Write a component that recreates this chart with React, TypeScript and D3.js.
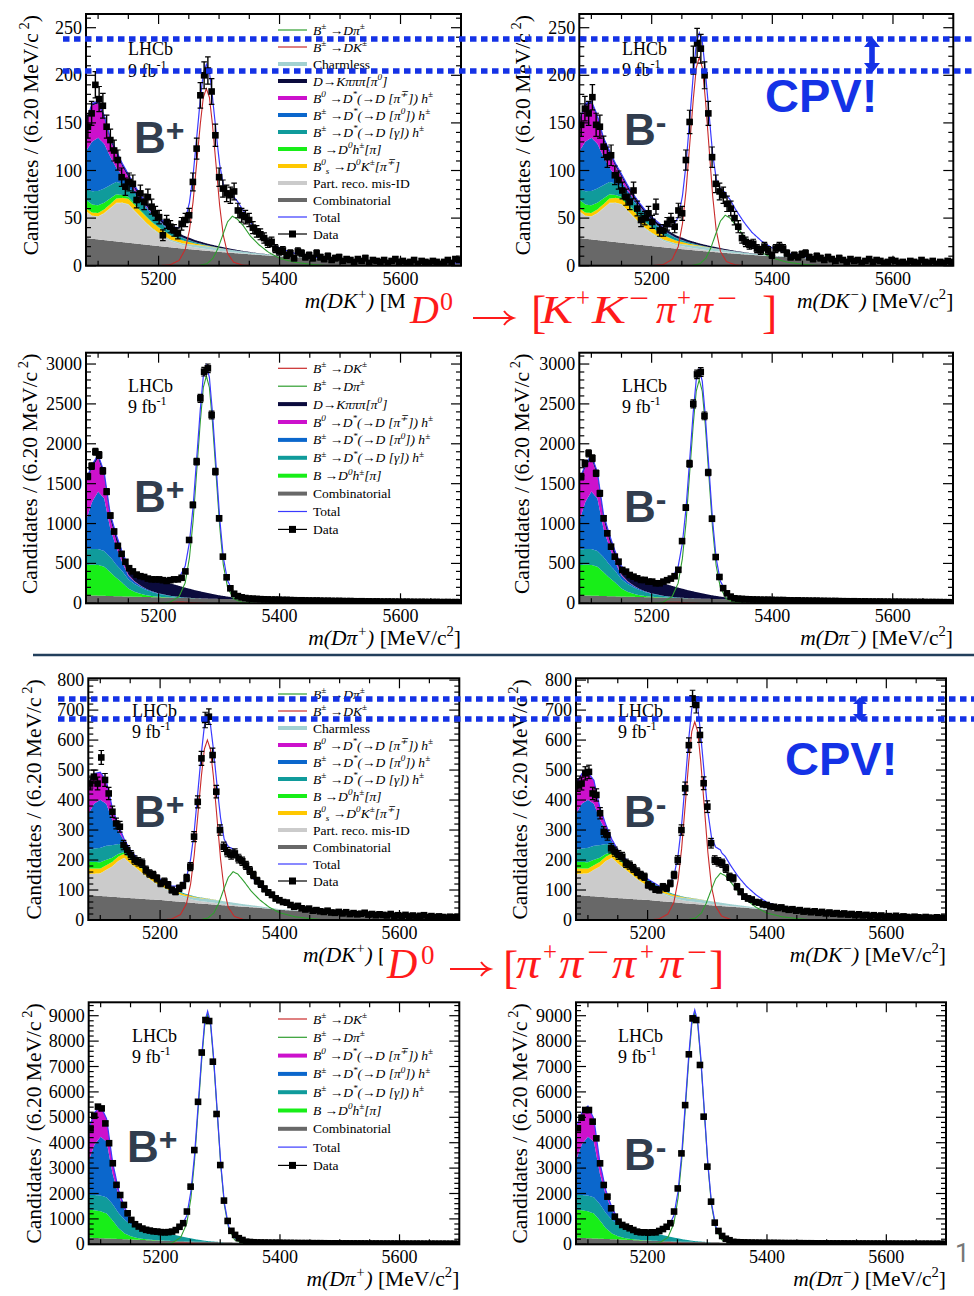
import React from 'react';
import * as d3 from 'd3';

// ---------------- data ----------------
const massDomain = [5080, 5700];
const firstBinCentre = 5083.1;
const binWidth = 6.2;

const bgKnots = [5080, 5090, 5100, 5110, 5120, 5130, 5140, 5150, 5160, 5170, 5180, 5190, 5200, 5220, 5240, 5260, 5280, 5300, 5320, 5340, 5360, 5400, 5450, 5500, 5600, 5700];
const peakKnots = [5199, 5219, 5234, 5244, 5251, 5257, 5263, 5269, 5274, 5279, 5284, 5289, 5295, 5301, 5307, 5314, 5324, 5339, 5359];
const misIdKnots = [5265, 5280, 5290, 5298, 5306, 5314, 5322, 5330, 5340, 5352, 5366, 5382, 5400, 5425, 5450, 5480];
const dkInDpiKnots = [5180, 5200, 5215, 5228, 5240, 5252, 5265, 5280];

// Row 1: D -> K+K-pi+pi-, B -> DK
const kkDK_comb = [29, 28.3, 27.6, 26.9, 26.2, 25.5, 24.8, 24.1, 23.4, 22.7, 22, 21.3, 20.6, 19.3, 18, 16.8, 15.6, 14.5, 13.5, 12.5, 11.6, 9.8, 8, 6.5, 4.3, 2.8];
const kkDK_partReco = [28, 24, 24, 28, 34, 40, 41, 40, 34, 28, 22, 17, 13, 6.5, 3.5, 2.5, 1.8, 1.2, 0.8, 0.5, 0.3, 0.1, 0, 0, 0, 0];
const kkDK_charmless = [0.3, 0.3, 0.3, 0.4, 0.4, 0.5, 0.5, 0.6, 0.7, 0.8, 0.9, 1, 1.1, 1.5, 2, 2.6, 3, 2.8, 2.4, 1.9, 1.4, 0.6, 0.2, 0, 0, 0];
const kkDK_bs = [3, 3.2, 3.5, 3.8, 4, 4.5, 5, 5.5, 6, 6, 6, 5.8, 5.5, 4.5, 3, 1.5, 0.6, 0.2, 0, 0, 0, 0, 0, 0, 0, 0];
const kkDK_dh = [9, 8.5, 8, 7, 6, 4.5, 3, 2, 1.5, 1.1, 0.8, 0.6, 0.4, 0.2, 0, 0, 0, 0, 0, 0, 0, 0, 0, 0, 0, 0];
const kkDK_gamma = [11, 14, 15, 15, 14, 13, 12, 11, 10, 9, 8, 7, 6, 4, 2.5, 1.2, 0.5, 0.2, 0, 0, 0, 0, 0, 0, 0, 0];
const kkDK_pi0 = [40, 52, 56, 47, 30, 15, 8, 5, 3.5, 2.5, 2, 1.5, 1.2, 0.8, 0.5, 0.2, 0, 0, 0, 0, 0, 0, 0, 0, 0, 0];
const kkDK_pim = [30, 38, 36, 27, 17, 15, 10, 5, 2.5, 1.5, 1, 0.6, 0.3, 0.1, 0, 0, 0, 0, 0, 0, 0, 0, 0, 0, 0, 0];
const kkDK_k3pi = [1.5, 2, 2.5, 2.8, 3, 3, 3, 3, 3, 3, 3, 3, 3, 2.8, 2.5, 2.2, 1.8, 1.4, 1, 0.6, 0.3, 0.1, 0, 0, 0, 0];
const kkDKplus_sig = [0, 0.9, 5.6, 17, 37, 67, 108, 149, 177, 186, 177, 149, 106, 63, 32, 13, 3.7, 0.6, 0];
const kkDKminus_sig = [0, 1.1, 6.6, 20, 44, 79, 127, 175, 208, 219, 208, 175, 125, 74, 37, 15, 4.4, 0.7, 0];
const kkDKplus_misid = [0, 2.1, 7.8, 18, 32, 46, 52, 49, 42, 31, 22, 14, 7.8, 3.6, 1.6, 0];
const kkDKminus_misid = [0, 2.1, 8, 18.5, 33, 47, 53, 50, 42, 32, 22, 14, 8, 3.7, 1.6, 0];
const kkDKplus_data = [146, 160, 190, 175, 168, 146, 132, 121, 111, 93, 83, 88, 86, 69, 76, 67, 72, 62, 55, 51, 32, 46, 41, 37, 34, 44, 48, 53,
  88, 123, 179, 200, 205, 183, 137, 93, 81, 76, 74, 78, 58, 53, 51, 48, 40, 36, 33, 29, 24, 25,
  18, 15, 16, 11, 13, 8, 15, 13, 9, 11, 8, 13, 9, 7, 10, 6, 8, 9, 5, 7, 6, 4, 7, 5, 8, 3, 6, 5, 4, 6, 3, 5, 7, 4, 5, 3, 4, 6, 2, 5, 4, 3, 5, 4, 2, 4, 6, 3, 7, 6];
const kkDKminus_data = [148, 165, 160, 177, 148, 146, 125, 114, 116, 95, 90, 79, 72, 67, 79, 60, 48, 50, 55, 46, 62, 37, 37, 44, 48, 41, 58, 55,
  111, 151, 216, 234, 228, 200, 160, 114, 86, 78, 74, 65, 60, 50, 41, 29, 25, 22, 23, 18, 16, 20,
  16, 11, 18, 20, 18, 13, 9, 11, 9, 12, 13, 9, 7, 10, 8, 6, 9, 7, 5, 8, 6, 4, 7, 5, 6, 3, 5, 7, 4, 6, 5, 3, 4, 6, 5, 3, 4, 2, 5, 4, 3, 6, 4, 3, 5, 2, 4, 3, 5, 4];

// Row 2: D -> K+K-pi+pi-, B -> Dpi
const kkDpi_comb = [100, 98, 96, 94, 91, 89, 87, 85, 83, 81, 79, 77, 75, 71, 67, 63, 59, 55, 52, 48, 45, 40, 34, 28, 20, 14];
const kkDpi_dh = [380, 385, 385, 365, 300, 230, 170, 100, 62, 38, 22, 13, 7, 2, 0, 0, 0, 0, 0, 0, 0, 0, 0, 0, 0, 0];
const kkDpi_gamma = [195, 198, 200, 197, 190, 165, 145, 115, 98, 82, 65, 50, 37, 18, 7, 2, 0, 0, 0, 0, 0, 0, 0, 0, 0, 0];
const kkDpi_pi0 = [360, 590, 720, 660, 360, 220, 110, 45, 28, 18, 12, 8, 6, 3, 1, 0, 0, 0, 0, 0, 0, 0, 0, 0, 0, 0];
const kkDpi_pim = [480, 430, 420, 280, 120, 80, 40, 15, 8, 4, 2, 1, 0.5, 0, 0, 0, 0, 0, 0, 0, 0, 0, 0, 0, 0, 0];
const kkDpi_k3pi = [30, 35, 40, 50, 60, 75, 90, 105, 120, 132, 142, 148, 160, 155, 130, 100, 72, 46, 25, 12, 5, 1, 0, 0, 0, 0];
const kkDpiplus_sig = [0, 14, 86, 257, 570, 1026, 1653, 2280, 2708, 2850, 2708, 2280, 1625, 969, 485, 200, 57, 9, 0];
const kkDpiminus_sig = [0, 14, 84, 252, 560, 1008, 1624, 2240, 2660, 2800, 2660, 2240, 1596, 952, 476, 196, 56, 8, 0];
const kkDpiplus_dk = [0, 3, 8, 14, 15, 10, 3, 0];
const kkDpiminus_dk = [0, 3, 8, 13, 14, 9, 3, 0];
const kkDpiplus_data = [1590, 1720, 1900, 1860, 1660, 1400, 1100, 900, 720, 620, 520, 440, 400, 360, 340, 330, 310, 300, 300, 300, 290, 280, 290, 300, 300, 320, 400,
  794, 1233, 1776, 2570, 2904, 2946, 2361, 1651, 1066, 585, 326, 188, 120, 90, 75,
  66, 60, 58, 55, 52, 50, 49, 46, 47, 44, 42, 43, 40, 39, 37, 38, 36, 35, 34, 35, 33, 31, 32, 30, 29, 30, 28, 27, 28, 26, 25, 26, 24, 24, 23, 24, 22, 21, 22, 21, 20, 20, 19, 20, 18, 18, 17, 18, 17, 16, 16, 17, 15, 15, 16, 14, 15, 14];
const kkDpiminus_data = [1588, 1755, 1880, 1818, 1630, 1379, 1066, 878, 710, 585, 522, 418, 397, 355, 334, 313, 293, 293, 272, 272, 251, 251, 272, 290, 310, 340, 420,
  780, 1200, 1750, 2500, 2870, 2900, 2350, 1640, 1060, 580, 330, 190, 125, 84, 63,
  58, 55, 52, 50, 48, 47, 45, 44, 45, 42, 41, 40, 41, 38, 37, 36, 37, 34, 34, 33, 32, 33, 30, 30, 29, 28, 29, 27, 26, 26, 25, 26, 24, 23, 24, 22, 22, 21, 22, 20, 20, 19, 20, 19, 18, 18, 17, 18, 16, 17, 16, 15, 16, 15, 15, 14, 14, 13];

// Row 3: D -> pi+pi-pi+pi-, B -> DK
const pipiDK_comb = [83, 82, 80, 79, 77, 76, 74.5, 73, 72, 70.5, 69, 68, 67, 63, 60, 56, 53, 50, 47, 44, 41.5, 34, 28, 23, 15, 9];
const pipiDK_partReco = [70, 72, 75, 88, 101, 120, 132, 115, 100, 85, 70, 56, 45, 28, 15, 9, 7, 5, 3.5, 2.5, 1.5, 0.5, 0, 0, 0, 0];
const pipiDK_charmless = [0.5, 0.5, 0.6, 0.6, 0.7, 0.8, 1, 1.2, 1.4, 1.6, 1.8, 2, 2.3, 3.5, 6, 9, 10, 9.5, 8, 6, 4.5, 1.5, 0.3, 0, 0, 0];
const pipiDK_bs = [18, 17, 16, 15, 15, 14.5, 14, 14, 14, 13.5, 13, 12, 11, 8, 5, 2, 1, 0.3, 0, 0, 0, 0, 0, 0, 0, 0];
const pipiDK_dh = [22, 22, 21, 18, 14, 9, 5, 3.5, 2.5, 2, 1.5, 1.2, 1, 0.4, 0, 0, 0, 0, 0, 0, 0, 0, 0, 0, 0, 0];
const pipiDK_gamma = [40, 45, 48, 47, 42, 33, 25, 20, 17, 15, 13, 11, 10, 6, 3, 1.5, 0.5, 0, 0, 0, 0, 0, 0, 0, 0, 0];
const pipiDK_pi0 = [120, 150, 160, 140, 85, 45, 12, 5, 2.5, 1.5, 1, 0.5, 0.3, 0, 0, 0, 0, 0, 0, 0, 0, 0, 0, 0, 0, 0];
const pipiDK_pim = [100, 100, 92, 78, 40, 20, 6, 2, 1, 0.5, 0, 0, 0, 0, 0, 0, 0, 0, 0, 0, 0, 0, 0, 0, 0, 0];
const pipiDKplus_sig = [0, 3, 18, 54, 120, 216, 348, 480, 570, 600, 570, 480, 342, 204, 102, 42, 12, 1.8, 0];
const pipiDKminus_sig = [0, 3.3, 20, 59, 132, 238, 383, 529, 628, 661, 628, 529, 377, 225, 112, 46, 13, 2, 0];
const pipiDKplus_misid = [0, 6.4, 24, 56, 100, 142, 161, 153, 129, 97, 68, 43, 24, 11, 4.8, 0];
const pipiDKminus_misid = [0, 6.2, 23, 55, 97, 137, 156, 148, 125, 94, 66, 42, 23, 11, 4.7, 0];
const pipiDKplus_data = [455, 478, 455, 542, 467, 422, 361, 322, 311, 250, 233, 217, 200, 194, 189, 167, 155, 150, 139, 122, 128, 117, 100, 94, 106, 115,
  140, 178, 278, 394, 539, 667, 678, 550, 428, 300, 244, 226, 218, 222, 205, 196, 182, 165, 150, 131, 120, 104, 92, 84, 72,
  66, 60, 58, 50, 44, 47, 39, 35, 38, 31, 33, 29, 27, 31, 25, 24, 27, 22, 26, 20, 23, 19, 21, 24, 18, 20, 16, 19, 17, 15, 20, 14, 16, 13, 17, 12, 15, 11, 14, 16, 10, 13, 9, 12, 10, 8, 11, 9, 10];
const pipiDKminus_data = [450, 455, 489, 494, 422, 417, 356, 294, 283, 239, 228, 217, 211, 189, 183, 172, 161, 150, 144, 117, 111, 102, 100, 111, 106, 122,
  150, 200, 300, 439, 583, 739, 717, 617, 456, 378, 256, 200, 194, 189, 172, 144, 139, 111, 94, 78,
  72, 68, 60, 58, 52, 50, 45, 44, 40, 42, 37, 34, 36, 31, 33, 28, 30, 26, 29, 24, 27, 22, 25, 21, 23, 19, 22, 18, 20, 16, 19, 15, 17, 13, 16, 12, 15, 11, 13, 10, 14, 9, 12, 10, 8, 11, 9, 7, 10, 8, 6, 9, 7, 8];

// Row 4: D -> pi+pi-pi+pi-, B -> Dpi
const pipiDpi_comb = [260, 250, 240, 230, 220, 210, 200, 190, 180, 170, 160, 150, 142, 128, 115, 103, 93, 84, 76, 69, 63, 53, 44, 37, 28, 22];
const pipiDpi_dh = [1100, 1090, 1060, 980, 720, 420, 230, 130, 75, 45, 28, 17, 10, 3, 0, 0, 0, 0, 0, 0, 0, 0, 0, 0, 0, 0];
const pipiDpi_gamma = [580, 600, 620, 640, 640, 600, 540, 470, 400, 340, 310, 300, 290, 260, 170, 90, 30, 5, 0, 0, 0, 0, 0, 0, 0, 0];
const pipiDpi_pi0 = [1360, 2005, 2310, 2190, 1200, 700, 380, 180, 70, 30, 15, 9, 6, 2, 0, 0, 0, 0, 0, 0, 0, 0, 0, 0, 0, 0];
const pipiDpi_pim = [1260, 1250, 1210, 900, 450, 200, 100, 45, 20, 10, 5, 3, 1, 0, 0, 0, 0, 0, 0, 0, 0, 0, 0, 0, 0, 0];
const pipiDpiplus_sig = [0, 45, 272, 815, 1810, 3258, 5249, 7240, 8598, 9050, 8598, 7240, 5159, 3077, 1539, 634, 181, 27, 0];
const pipiDpiminus_sig = [0, 46, 273, 819, 1820, 3276, 5278, 7280, 8645, 9100, 8645, 7280, 5187, 3094, 1547, 637, 182, 27, 0];
const pipiDpiplus_dk = [0, 10, 25, 45, 50, 35, 10, 0];
const pipiDpiminus_dk = [0, 10, 24, 42, 48, 33, 9, 0];
const pipiDpiplus_data = [4560, 5060, 5420, 5350, 4760, 3980, 3190, 2340, 1940, 1550, 1220, 960, 790, 700, 620, 570, 540, 510, 500, 480, 470, 480, 500, 560, 690, 830,
  1290, 2270, 3710, 5610, 7550, 8830, 8790, 7190, 5130, 3120, 1720, 920, 530, 370, 240, 170,
  100, 90, 80, 72, 70, 66, 64, 60, 62, 57, 55, 53, 54, 50, 49, 47, 48, 45, 44, 43, 44, 41, 40, 38, 39, 37, 36, 37, 35, 34, 33, 34, 32, 31, 30, 31, 29, 28, 29, 27, 27, 26, 27, 25, 25, 24, 25, 23, 23, 22, 23, 22, 21, 22, 21, 20, 21, 20];
const pipiDpiminus_data = [4566, 4986, 5287, 5287, 4828, 4172, 3188, 2335, 1876, 1417, 1089, 892, 761, 695, 630, 564, 499, 472, 472, 459, 472, 472, 525, 600, 690, 830,
  1290, 2200, 3580, 5480, 7480, 8895, 8830, 7060, 5025, 3057, 1679, 853, 525, 328, 220, 160,
  95, 85, 78, 74, 68, 65, 62, 61, 58, 56, 54, 55, 51, 50, 48, 46, 47, 44, 45, 42, 41, 42, 39, 38, 37, 38, 35, 35, 34, 33, 34, 31, 31, 30, 29, 30, 28, 28, 27, 28, 26, 26, 25, 26, 24, 24, 23, 24, 22, 23, 22, 21, 22, 21, 20, 21, 20, 20];

const xTickLabels = [5200, 5400, 5600];

// ---------------- styles ----------------
const SERIF = "'Liberation Serif', 'Times New Roman', serif";
const SANS = "'Liberation Sans', Arial, sans-serif";
const COLORS: Record<string, string> = {
  comb: '#686868', pr: '#cbcbcb', charm: '#a2d1d1', bs: '#ffc800', dh: '#18ee18', gamma: '#109b9b',
  pi0: '#0b67cc', pim: '#cc11cc', k3pi: '#0b0b3d', dk: '#c92a2a', dpi: '#2f9e2f', total: '#3a3aff',
};
const LEGEND_TEXT: Record<string, [string, boolean]> = {
  dpi: ['B^{±} →Dπ^{±}', true],
  dk: ['B^{±} →DK^{±}', true],
  charm: ['Charmless', false],
  k3pi: ['D→Kπππ[π^{0}]', true],
  pim: ['B^{0} →D^{*}(→D [π^{∓}]) h^{±}', true],
  pi0: ['B^{±} →D^{*}(→D [π^{0}]) h^{±}', true],
  gamma: ['B^{±} →D^{*}(→D [γ]) h^{±}', true],
  dh: ['B →D^{0}h^{±}[π]', true],
  bs: ['B^{0}_{s} →D^{0}K^{±}[π^{∓}]', true],
  pr: ['Part. reco. mis-ID', false],
  comb: ['Combinatorial', false],
  total: ['Total', false],
  data: ['Data', false],
};
const THIN = new Set(['dk', 'dpi', 'total']);

function parseRich(s: string) {
  const parts: { t: string; lvl: number }[] = [];
  let buf = '';
  let i = 0;
  while (i < s.length) {
    const c = s[i];
    if ((c === '^' || c === '_') && s[i + 1] === '{') {
      if (buf) { parts.push({ t: buf, lvl: 0 }); buf = ''; }
      const j = s.indexOf('}', i);
      parts.push({ t: s.slice(i + 2, j), lvl: c === '^' ? 1 : -1 });
      i = j + 1;
    } else { buf += c; i++; }
  }
  if (buf) parts.push({ t: buf, lvl: 0 });
  return parts;
}

function rich(segs: { s: string; it?: boolean }[], fs: number) {
  const out: any[] = [];
  let cur = 0;
  let k = 0;
  for (const seg of segs) {
    for (const p of parseRich(seg.s)) {
      const off = p.lvl === 1 ? -0.42 * fs : p.lvl === -1 ? 0.24 * fs : 0;
      const dy = off - cur;
      cur = off;
      out.push(
        <tspan key={k++} dy={dy !== 0 ? dy : undefined} fontSize={p.lvl ? fs * 0.68 : fs} fontStyle={seg.it ? 'italic' : 'normal'}>
          {p.t}
        </tspan>
      );
    }
  }
  return out;
}

type Curve = { knots: number[]; vals: number[] };
interface PanelSpec {
  frame: [number, number, number, number];
  yMax: number; yStep: number; yMinor: number;
  stack: { key: string; vals: number[] }[];
  dk: Curve; dpi: Curve; data: number[];
  legend?: { keys: string[]; x: number; y: number; dy: number };
  sign: string; bx: number; by: number;
  lx: number; ly: number; ly2: number;
  yTitleX: number;
  xTitle: string;
  titleClip?: number;
}

const kkDKstack = [
  { key: 'comb', vals: kkDK_comb }, { key: 'pr', vals: kkDK_partReco }, { key: 'charm', vals: kkDK_charmless },
  { key: 'bs', vals: kkDK_bs }, { key: 'dh', vals: kkDK_dh }, { key: 'gamma', vals: kkDK_gamma },
  { key: 'pi0', vals: kkDK_pi0 }, { key: 'pim', vals: kkDK_pim }, { key: 'k3pi', vals: kkDK_k3pi },
];
const kkDpiStack = [
  { key: 'comb', vals: kkDpi_comb }, { key: 'dh', vals: kkDpi_dh }, { key: 'gamma', vals: kkDpi_gamma },
  { key: 'pi0', vals: kkDpi_pi0 }, { key: 'pim', vals: kkDpi_pim }, { key: 'k3pi', vals: kkDpi_k3pi },
];
const pipiDKstack = [
  { key: 'comb', vals: pipiDK_comb }, { key: 'pr', vals: pipiDK_partReco }, { key: 'charm', vals: pipiDK_charmless },
  { key: 'bs', vals: pipiDK_bs }, { key: 'dh', vals: pipiDK_dh }, { key: 'gamma', vals: pipiDK_gamma },
  { key: 'pi0', vals: pipiDK_pi0 }, { key: 'pim', vals: pipiDK_pim },
];
const pipiDpiStack = [
  { key: 'comb', vals: pipiDpi_comb }, { key: 'dh', vals: pipiDpi_dh }, { key: 'gamma', vals: pipiDpi_gamma },
  { key: 'pi0', vals: pipiDpi_pi0 }, { key: 'pim', vals: pipiDpi_pim },
];

const DKp = 'm(DK^{+})';
const PANELS: PanelSpec[] = [
  {
    frame: [86, 461, 14, 265.7], yMax: 264.4, yStep: 50, yMinor: 10, stack: kkDKstack,
    dk: { knots: peakKnots, vals: kkDKplus_sig }, dpi: { knots: misIdKnots, vals: kkDKplus_misid }, data: kkDKplus_data,
    legend: { keys: ['dpi', 'dk', 'charm', 'k3pi', 'pim', 'pi0', 'gamma', 'dh', 'bs', 'pr', 'comb', 'total', 'data'], x: 278, y: 30, dy: 17.0 },
    sign: '+', bx: 134, by: 153, lx: 128, ly: 55, ly2: 77, yTitleX: 38, xTitle: DKp, titleClip: 405,
  },
  {
    frame: [579.3, 953.3, 14, 265.7], yMax: 264.4, yStep: 50, yMinor: 10, stack: kkDKstack,
    dk: { knots: peakKnots, vals: kkDKminus_sig }, dpi: { knots: misIdKnots, vals: kkDKminus_misid }, data: kkDKminus_data,
    sign: '-', bx: 624, by: 145, lx: 622, ly: 55, ly2: 76, yTitleX: 530, xTitle: 'm(DK^{−})',
  },
  {
    frame: [86, 461, 352.7, 603.3], yMax: 3142, yStep: 500, yMinor: 100, stack: kkDpiStack,
    dk: { knots: dkInDpiKnots, vals: kkDpiplus_dk }, dpi: { knots: peakKnots, vals: kkDpiplus_sig }, data: kkDpiplus_data,
    legend: { keys: ['dk', 'dpi', 'k3pi', 'pim', 'pi0', 'gamma', 'dh', 'comb', 'total', 'data'], x: 278, y: 368.3, dy: 17.9 },
    sign: '+', bx: 134, by: 512, lx: 128, ly: 392, ly2: 413, yTitleX: 37, xTitle: 'm(Dπ^{+})',
  },
  {
    frame: [579.3, 953, 352.7, 603.3], yMax: 3142, yStep: 500, yMinor: 100, stack: kkDpiStack,
    dk: { knots: dkInDpiKnots, vals: kkDpiminus_dk }, dpi: { knots: peakKnots, vals: kkDpiminus_sig }, data: kkDpiminus_data,
    sign: '-', bx: 624, by: 522, lx: 622, ly: 392, ly2: 413, yTitleX: 529, xTitle: 'm(Dπ^{−})',
  },
  {
    frame: [88.3, 459.3, 678.3, 920], yMax: 806, yStep: 100, yMinor: 20, stack: pipiDKstack,
    dk: { knots: peakKnots, vals: pipiDKplus_sig }, dpi: { knots: misIdKnots, vals: pipiDKplus_misid }, data: pipiDKplus_data,
    legend: { keys: ['dpi', 'dk', 'charm', 'pim', 'pi0', 'gamma', 'dh', 'bs', 'pr', 'comb', 'total', 'data'], x: 278, y: 694, dy: 17.0 },
    sign: '+', bx: 134, by: 827, lx: 132, ly: 717, ly2: 738, yTitleX: 41, xTitle: DKp, titleClip: 383,
  },
  {
    frame: [576, 946, 678.3, 920], yMax: 806, yStep: 100, yMinor: 20, stack: pipiDKstack,
    dk: { knots: peakKnots, vals: pipiDKminus_sig }, dpi: { knots: misIdKnots, vals: pipiDKminus_misid }, data: pipiDKminus_data,
    sign: '-', bx: 624, by: 827, lx: 618, ly: 717, ly2: 738, yTitleX: 527, xTitle: 'm(DK^{−})',
  },
  {
    frame: [88.7, 459.3, 1002.3, 1244.3], yMax: 9528, yStep: 1000, yMinor: 200, stack: pipiDpiStack,
    dk: { knots: dkInDpiKnots, vals: pipiDpiplus_dk }, dpi: { knots: peakKnots, vals: pipiDpiplus_sig }, data: pipiDpiplus_data,
    legend: { keys: ['dk', 'dpi', 'pim', 'pi0', 'gamma', 'dh', 'comb', 'total', 'data'], x: 278, y: 1019, dy: 18.3 },
    sign: '+', bx: 127, by: 1162, lx: 132, ly: 1042, ly2: 1063, yTitleX: 41, xTitle: 'm(Dπ^{+})',
  },
  {
    frame: [576, 946, 1002.3, 1244.3], yMax: 9528, yStep: 1000, yMinor: 200, stack: pipiDpiStack,
    dk: { knots: dkInDpiKnots, vals: pipiDpiminus_dk }, dpi: { knots: peakKnots, vals: pipiDpiminus_sig }, data: pipiDpiminus_data,
    sign: '-', bx: 624, by: 1170, lx: 618, ly: 1042, ly2: 1063, yTitleX: 527, xTitle: 'm(Dπ^{−})',
  },
];

const fine = d3.range(massDomain[0], massDomain[1] + 0.5, 1);
const interp = (knots: number[], vals: number[]) => d3.scaleLinear().domain(knots).range(vals).clamp(true);

function Panel({ p, idx }: { p: PanelSpec; idx: number }) {
  const [x0, x1, y0, y1] = p.frame;
  const xs = d3.scaleLinear().domain(massDomain).range([x0, x1]);
  const ys = d3.scaleLinear().domain([0, p.yMax]).range([y1, y0]);
  let cum = fine.map(() => 0);
  const areas = p.stack.map((l) => {
    const f = interp(bgKnots, l.vals);
    const lo = cum;
    const hi = fine.map((m, j) => lo[j] + Math.max(0, f(m)));
    cum = hi;
    const area = d3.area<number>().x((m) => xs(m)).y0((_, j) => ys(lo[j])).y1((_, j) => ys(hi[j]));
    return <path key={l.key} d={area(fine) || ''} fill={COLORS[l.key]} stroke="none" />;
  });
  const fdk = interp(p.dk.knots, p.dk.vals);
  const fdpi = interp(p.dpi.knots, p.dpi.vals);
  const total = fine.map((m, j) => cum[j] + fdk(m) + fdpi(m));
  const line = d3.line<[number, number]>().x((d) => xs(d[0])).y((d) => ys(d[1]));
  const curvePts = (c: Curve, f: (m: number) => number) =>
    fine.filter((m) => m >= c.knots[0] && m <= c.knots[c.knots.length - 1]).map((m) => [m, f(m)] as [number, number]);
  const clipId = `clip${idx}`;
  const tclipId = `tclip${idx}`;

  const yTicks: any[] = [];
  const nMinor = Math.floor(p.yMax / p.yMinor + 1e-9);
  const per = Math.round(p.yStep / p.yMinor);
  for (let k = 0; k <= nMinor; k++) {
    const v = k * p.yMinor;
    const len = k % per === 0 ? 10 : 5;
    const y = ys(v);
    yTicks.push(<line key={`l${k}`} x1={x0} x2={x0 + len} y1={y} y2={y} />);
    yTicks.push(<line key={`r${k}`} x1={x1} x2={x1 - len} y1={y} y2={y} />);
  }
  const xTicks: any[] = [];
  for (let m = 5100; m <= 5700; m += 50) {
    const len = m % 200 === 0 ? 10 : 5;
    const x = xs(m);
    xTicks.push(<line key={`b${m}`} x1={x} x2={x} y1={y1} y2={y1 - len} />);
    xTicks.push(<line key={`t${m}`} x1={x} x2={x} y1={y0} y2={y0 + len} />);
  }
  const yLabels = d3.range(0, p.yMax + 1e-6, p.yStep).filter((v) => v <= p.yMax);

  return (
    <g>
      <defs>
        <clipPath id={clipId}><rect x={x0} y={y0} width={x1 - x0} height={y1 - y0} /></clipPath>
        {p.titleClip && <clipPath id={tclipId}><rect x={0} y={y1 + 10} width={p.titleClip} height={60} /></clipPath>}
      </defs>
      <g clipPath={`url(#${clipId})`}>
        {areas}
        <path d={line(curvePts(p.dk, fdk)) || ''} fill="none" stroke={COLORS.dk} strokeWidth={1.1} />
        <path d={line(curvePts(p.dpi, fdpi)) || ''} fill="none" stroke={COLORS.dpi} strokeWidth={1.1} />
        <path d={line(fine.map((m, j) => [m, total[j]] as [number, number])) || ''} fill="none" stroke={COLORS.total} strokeWidth={1.2} />
        {p.data.map((v, i) => {
          const m = firstBinCentre + binWidth * i;
          const cx = xs(m);
          const e = Math.sqrt(v);
          const ya = ys(v + e), yb = ys(v - e), yc = ys(v);
          return (
            <g key={i}>
              <line x1={cx} x2={cx} y1={ya} y2={yb} stroke="#000" strokeWidth={1.4} />
              <line x1={cx - 2.8} x2={cx + 2.8} y1={ya} y2={ya} stroke="#000" strokeWidth={1.2} />
              <line x1={cx - 2.8} x2={cx + 2.8} y1={yb} y2={yb} stroke="#000" strokeWidth={1.2} />
              <rect x={cx - 3.3} y={yc - 3.3} width={6.6} height={6.6} fill="#000" />
            </g>
          );
        })}
      </g>
      <g stroke="#000" strokeWidth={1.2}>{yTicks}{xTicks}</g>
      <rect x={x0} y={y0} width={x1 - x0} height={y1 - y0} fill="none" stroke="#000" strokeWidth={2} />
      <g fontFamily={SERIF} fontSize={18} fill="#000">
        {yLabels.map((v) => (
          <text key={v} x={x0 - 4} y={ys(v) + 6} textAnchor="end">{v}</text>
        ))}
        {xTickLabels.map((m) => (
          <text key={m} x={xs(m)} y={y1 + 19} textAnchor="middle">{m}</text>
        ))}
      </g>
      <text transform={`translate(${p.yTitleX},${y0 + 1}) rotate(-90)`} textAnchor="end" fontFamily={SERIF} style={{ whiteSpace: 'pre' }}>
        {rich([{ s: 'Candidates / (6.20 MeV/c^{ 2})' }], 21.5)}
      </text>
      <text x={x1} y={y1 + 42} textAnchor="end" fontFamily={SERIF} style={{ whiteSpace: 'pre' }}
        clipPath={p.titleClip ? `url(#${tclipId})` : undefined}>
        {rich([{ s: p.xTitle, it: true }, { s: ' [MeV/c^{2}]' }], 21.5)}
      </text>
      <g fontFamily={SERIF} fontSize={18}>
        <text x={p.lx} y={p.ly}>LHCb</text>
        <text x={p.lx} y={p.ly2} style={{ whiteSpace: 'pre' }}>{rich([{ s: '9 fb^{-1}' }], 18)}</text>
      </g>
      <text x={p.bx} y={p.by} fontFamily={SANS} fontWeight="bold" fontSize={44} fill="#313d4e">
        B<tspan dy={-12.5} fontSize={32}>{p.sign}</tspan>
      </text>
      {p.legend && (
        <g>
          {p.legend.keys.map((k, i) => {
            const y = p.legend!.y + i * p.legend!.dy;
            const lx = p.legend!.x;
            let sample;
            if (k === 'data') {
              sample = (
                <g>
                  <line x1={lx} x2={lx + 29} y1={y} y2={y} stroke="#000" strokeWidth={1.2} />
                  <rect x={lx + 11} y={y - 3.5} width={7} height={7} fill="#000" />
                </g>
              );
            } else {
              sample = <line x1={lx} x2={lx + 29} y1={y} y2={y} stroke={COLORS[k]} strokeWidth={THIN.has(k) ? 1.2 : 4} />;
            }
            const [txt, it] = LEGEND_TEXT[k];
            return (
              <g key={k}>
                {sample}
                <text x={lx + 35} y={y + 4.5} fontFamily={SERIF} style={{ whiteSpace: 'pre' }}>{rich([{ s: txt, it }], 13.5)}</text>
              </g>
            );
          })}
        </g>
      )}
    </g>
  );
}

type Glyph = { t: string; x: number; y: number; fs: number; it?: boolean; w?: number };
const formulaKK: Glyph[] = [
  { t: 'D', x: 410, y: 323, fs: 40, it: true }, { t: '0', x: 440, y: 310, fs: 26 },
  { t: '[', x: 531, y: 328, fs: 46 },
  { t: 'K', x: 541, y: 323, fs: 40, it: true, w: 32 }, { t: '+', x: 576, y: 307, fs: 27, w: 14 },
  { t: 'K', x: 592, y: 323, fs: 40, it: true, w: 34 }, { t: '−', x: 629, y: 307, fs: 27, w: 20 },
  { t: 'π', x: 656, y: 323, fs: 40, it: true, w: 20 }, { t: '+', x: 677, y: 307, fs: 27, w: 14 },
  { t: 'π', x: 693, y: 323, fs: 40, it: true, w: 20 }, { t: '−', x: 717, y: 307, fs: 27, w: 20 },
  { t: ']', x: 762, y: 328, fs: 46 },
];
const formulaPi: Glyph[] = [
  { t: 'D', x: 387, y: 978, fs: 42, it: true }, { t: '0', x: 421, y: 964, fs: 27 },
  { t: '[', x: 503, y: 983, fs: 46 },
  { t: 'π', x: 516, y: 978, fs: 44, it: true, w: 24 }, { t: '+', x: 543, y: 961, fs: 27, w: 14 },
  { t: 'π', x: 559, y: 978, fs: 44, it: true, w: 24 }, { t: '−', x: 587, y: 961, fs: 27, w: 22 },
  { t: 'π', x: 612, y: 978, fs: 44, it: true, w: 24 }, { t: '+', x: 640, y: 961, fs: 27, w: 14 },
  { t: 'π', x: 659, y: 978, fs: 44, it: true, w: 24 }, { t: '−', x: 687, y: 961, fs: 27, w: 20 },
  { t: ']', x: 709, y: 983, fs: 46 },
];

function Formula({ glyphs, box, arrow }: { glyphs: Glyph[]; box: [number, number, number, number]; arrow: [number, number, number] }) {
  const [ax0, ax1, ay] = arrow;
  return (
    <g>
      <rect x={box[0]} y={box[1]} width={box[2]} height={box[3]} fill="#fff" />
      {glyphs.map((g, i) => (
        <text key={i} x={g.x} y={g.y} fontSize={g.fs} fontStyle={g.it ? 'italic' : 'normal'} fontFamily={SERIF} fill="#ff1a1a"
          textLength={g.w} lengthAdjust={g.w ? 'spacingAndGlyphs' : undefined}>{g.t}</text>
      ))}
      <path d={`M${ax0},${ay} H${ax1 - 1}`} stroke="#ff1a1a" strokeWidth={2} fill="none" />
      <path d={`M${ax1 - 9},${ay - 7} Q${ax1 - 5},${ay - 1.5} ${ax1},${ay} Q${ax1 - 5},${ay + 1.5} ${ax1 - 9},${ay + 7}`} stroke="#ff1a1a" strokeWidth={2} fill="none" />
    </g>
  );
}

function DoubleArrow({ x, yTop, yBot, hw, hh }: { x: number; yTop: number; yBot: number; hw: number; hh: number }) {
  const sw = 2.8;
  const d = `M${x},${yTop} L${x + hw},${yTop + hh} L${x + sw},${yTop + hh} L${x + sw},${yBot - hh} L${x + hw},${yBot - hh} L${x},${yBot} L${x - hw},${yBot - hh} L${x - sw},${yBot - hh} L${x - sw},${yTop + hh} L${x - hw},${yTop + hh} Z`;
  return <path d={d} fill="#1432e6" />;
}

export default function App() {
  const blue = '#1432e6';
  return (
    <svg width={974} height={1296} style={{ position: 'absolute', left: 0, top: 0, background: '#fff' }} xmlns="http://www.w3.org/2000/svg">
      <rect x={0} y={0} width={974} height={1296} fill="#fff" />
      {PANELS.map((p, i) => <Panel key={i} p={p} idx={i} />)}
      <line x1={33} x2={974} y1={655} y2={655} stroke="#223f5c" strokeWidth={2.5} />
      <Formula glyphs={formulaKK} box={[405, 289, 373, 52]} arrow={[473, 513, 318]} />
      <Formula glyphs={formulaPi} box={[383, 941, 341, 54]} arrow={[450, 490, 969]} />
      <g stroke={blue} strokeWidth={5.5} strokeDasharray="6.5 4.5" fill="none">
        <line x1={63} x2={974} y1={39} y2={39} />
        <line x1={63} x2={974} y1={71} y2={71} />
        <line x1={58} x2={974} y1={699} y2={699} />
        <line x1={58} x2={974} y1={719} y2={719} />
      </g>
      <DoubleArrow x={872} yTop={37} yBot={73} hw={8} hh={10} />
      <DoubleArrow x={860} yTop={697} yBot={721} hw={7} hh={7} />
      <g fontFamily={SANS} fontWeight="bold" fontSize={47} fill={blue}>
        <text x={765} y={112}>CPV!</text>
        <text x={785} y={775}>CPV!</text>
      </g>
      <text x={955} y={1262} fontFamily="Roboto, sans-serif" fontSize={26} fill="#777">1</text>
    </svg>
  );
}
